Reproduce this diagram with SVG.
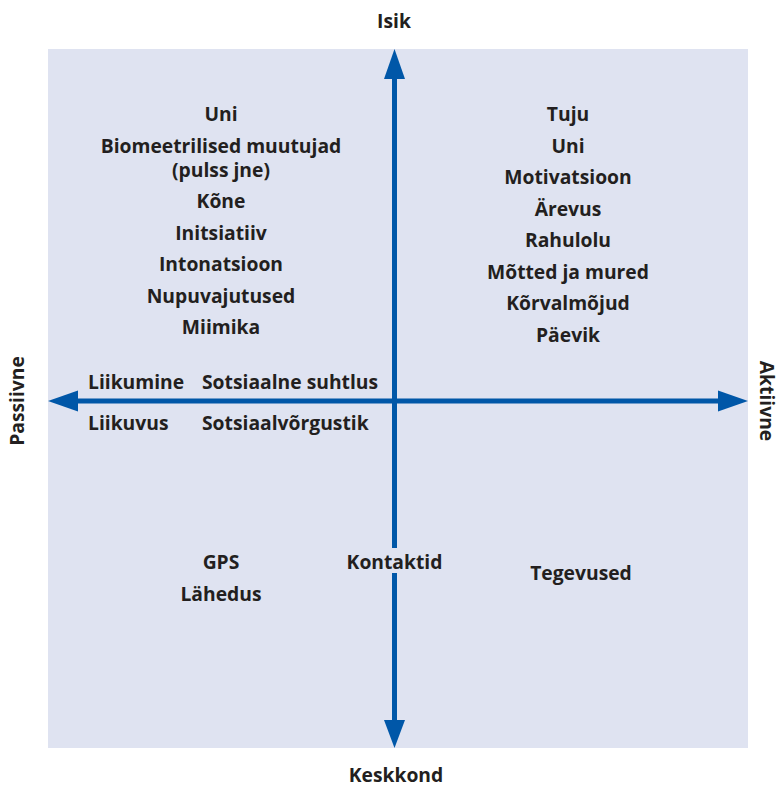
<svg xmlns="http://www.w3.org/2000/svg" width="781" height="786" viewBox="0 0 781 786">
<defs>
<style>
text{font-family:"Open Sans","Noto Sans",sans-serif;font-weight:700;font-size:19.3px;fill:#231F20;text-anchor:middle}
.l{text-anchor:start}
.ax{stroke:#0057A8;stroke-width:5;fill:none}
.ah{fill:#0057A8}
</style>
</defs>
<rect x="48" y="49" width="700" height="699" fill="#DFE3F1"/>
<g id="connectors">
<line class="ax" x1="394.5" y1="76" x2="394.5" y2="722"/>
<line class="ax" x1="76" y1="401" x2="720" y2="401"/>
<polygon class="ah" points="394.5,49 384,79 405,79"/>
<polygon class="ah" points="394.5,748 384,720 405,720"/>
<polygon class="ah" points="48,401 78,390.5 78,411.5"/>
<polygon class="ah" points="748,401 718,390.5 718,411.5"/>
</g>
<g id="axis-labels">
<text x="394" y="28">Isik</text>
<text x="396" y="782">Keskkond</text>
<text transform="translate(24,401) rotate(-90)">Passiivne</text>
<text transform="translate(760,401) rotate(90)">Aktiivne</text>
</g>
<g id="q-top-left">
<text x="221" y="121">Uni</text>
<text x="221" y="153">Biomeetrilised muutujad</text>
<text x="221" y="177">(pulss jne)</text>
<text x="221" y="208">Kõne</text>
<text x="221" y="240">Initsiatiiv</text>
<text x="221" y="271">Intonatsioon</text>
<text x="221" y="303">Nupuvajutused</text>
<text x="221" y="334">Miimika</text>
</g>
<g id="q-top-right">
<text x="568" y="121">Tuju</text>
<text x="568" y="153">Uni</text>
<text x="568" y="184">Motivatsioon</text>
<text x="568" y="216">Ärevus</text>
<text x="568" y="247">Rahulolu</text>
<text x="568" y="279">Mõtted ja mured</text>
<text x="568" y="310">Kõrvalmõjud</text>
<text x="568" y="342">Päevik</text>
</g>
<g id="axis-row">
<text class="l" x="88" y="389">Liikumine</text>
<text class="l" x="202" y="389">Sotsiaalne suhtlus</text>
<text class="l" x="88" y="430">Liikuvus</text>
<text class="l" x="202" y="430">Sotsiaalvõrgustik</text>
</g>
<g id="q-bottom-left">
<text x="221" y="569">GPS</text>
<text x="221" y="601">Lähedus</text>
</g>
<g id="kontaktid">
<rect x="380" y="548" width="30" height="25" fill="#DFE3F1"/>
<text x="394.5" y="569">Kontaktid</text>
</g>
<g id="q-bottom-right">
<text x="581" y="580">Tegevused</text>
</g>
</svg>
